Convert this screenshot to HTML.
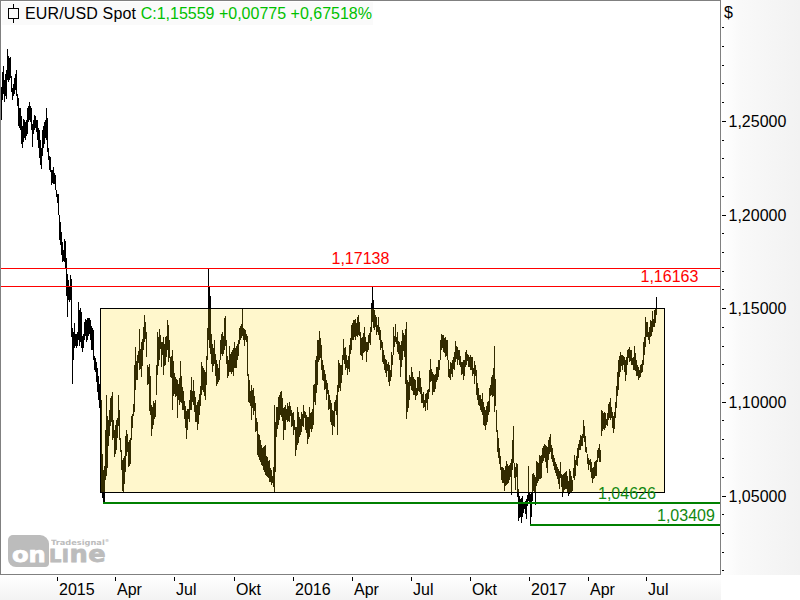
<!DOCTYPE html>
<html><head><meta charset="utf-8"><title>EUR/USD Spot</title>
<style>
html,body{margin:0;padding:0;background:#fff;}
body{width:800px;height:600px;position:relative;overflow:hidden;font-family:"Liberation Sans",sans-serif;}
.lg{font-family:"DejaVu Sans",sans-serif !important;font-weight:bold;}
.t{position:absolute;white-space:nowrap;line-height:1.15;font-family:"Liberation Sans",sans-serif;}
</style></head><body>
<svg width="800" height="600" viewBox="0 0 800 600" shape-rendering="crispEdges" style="position:absolute;left:0;top:0"><defs>
<linearGradient id="gy" x1="0" y1="0" x2="1" y2="0"><stop offset="0" stop-color="#ffffff"/><stop offset="0.25" stop-color="#f9f9f9"/><stop offset="1" stop-color="#f2f2f2"/></linearGradient>
<linearGradient id="gx" x1="0" y1="0" x2="0" y2="1"><stop offset="0" stop-color="#ffffff"/><stop offset="1" stop-color="#f3f3f3"/></linearGradient>
</defs><rect x="0" y="0" width="800" height="600" fill="#fff"/><rect x="721" y="0" width="79" height="575" fill="url(#gy)"/><rect x="0" y="575" width="721" height="25" fill="url(#gx)"/><rect x="2" y="2" width="371" height="23" fill="#fafafa"/><rect x="0" y="0" width="721" height="1" fill="#808080"/><rect x="0" y="0" width="1" height="575" fill="#808080"/><rect x="0" y="574" width="721" height="1" fill="#808080"/><rect x="720" y="0" width="1" height="575" fill="#808080"/><g fill="#000"><rect x="1" y="87" width="1" height="33"/><rect x="2" y="72" width="1" height="28"/><rect x="3" y="66" width="1" height="28"/><rect x="4" y="80" width="1" height="22"/><rect x="5" y="74" width="1" height="22"/><rect x="6" y="70" width="1" height="29"/><rect x="7" y="49" width="1" height="31"/><rect x="8" y="56" width="1" height="26"/><rect x="9" y="58" width="1" height="22"/><rect x="10" y="57" width="1" height="21"/><rect x="11" y="76" width="1" height="16"/><rect x="12" y="88" width="1" height="12"/><rect x="13" y="84" width="1" height="12"/><rect x="14" y="78" width="1" height="16"/><rect x="15" y="74" width="1" height="16"/><rect x="16" y="70" width="1" height="26"/><rect x="17" y="94" width="1" height="12"/><rect x="18" y="98" width="1" height="28"/><rect x="19" y="108" width="1" height="20"/><rect x="20" y="108" width="1" height="22"/><rect x="21" y="116" width="1" height="28"/><rect x="22" y="126" width="1" height="22"/><rect x="23" y="119" width="1" height="23"/><rect x="24" y="120" width="1" height="18"/><rect x="25" y="122" width="1" height="18"/><rect x="26" y="120" width="1" height="16"/><rect x="27" y="108" width="1" height="26"/><rect x="28" y="106" width="1" height="16"/><rect x="29" y="102" width="1" height="18"/><rect x="30" y="106" width="1" height="16"/><rect x="31" y="108" width="1" height="22"/><rect x="32" y="124" width="1" height="23"/><rect x="33" y="120" width="1" height="14"/><rect x="34" y="115" width="1" height="15"/><rect x="35" y="116" width="1" height="12"/><rect x="36" y="120" width="1" height="12"/><rect x="37" y="120" width="1" height="20"/><rect x="38" y="128" width="1" height="20"/><rect x="39" y="130" width="1" height="28"/><rect x="40" y="140" width="1" height="25"/><rect x="41" y="148" width="1" height="21"/><rect x="42" y="130" width="1" height="26"/><rect x="43" y="126" width="1" height="22"/><rect x="44" y="122" width="1" height="22"/><rect x="45" y="120" width="1" height="18"/><rect x="46" y="108" width="1" height="32"/><rect x="47" y="118" width="1" height="34"/><rect x="48" y="148" width="1" height="12"/><rect x="49" y="156" width="1" height="14"/><rect x="50" y="157" width="1" height="15"/><rect x="51" y="170" width="1" height="15"/><rect x="52" y="170" width="1" height="13"/><rect x="53" y="167" width="1" height="17"/><rect x="54" y="173" width="1" height="11"/><rect x="55" y="175" width="1" height="15"/><rect x="56" y="190" width="1" height="7"/><rect x="57" y="194" width="1" height="9"/><rect x="58" y="194" width="1" height="21"/><rect x="59" y="215" width="1" height="25"/><rect x="60" y="222" width="1" height="23"/><rect x="61" y="232" width="1" height="23"/><rect x="62" y="242" width="1" height="20"/><rect x="63" y="250" width="1" height="11"/><rect x="64" y="239" width="1" height="23"/><rect x="65" y="241" width="1" height="27"/><rect x="66" y="258" width="1" height="38"/><rect x="67" y="274" width="1" height="43"/><rect x="68" y="280" width="1" height="20"/><rect x="69" y="286" width="1" height="16"/><rect x="70" y="275" width="1" height="25"/><rect x="71" y="279" width="1" height="58"/><rect x="72" y="328" width="1" height="56"/><rect x="73" y="332" width="1" height="28"/><rect x="74" y="323" width="1" height="25"/><rect x="75" y="334" width="1" height="12"/><rect x="76" y="334" width="1" height="14"/><rect x="77" y="332" width="1" height="14"/><rect x="78" y="302" width="1" height="38"/><rect x="79" y="310" width="1" height="36"/><rect x="80" y="308" width="1" height="34"/><rect x="81" y="312" width="1" height="36"/><rect x="82" y="336" width="1" height="16"/><rect x="83" y="334" width="1" height="14"/><rect x="84" y="322" width="1" height="18"/><rect x="85" y="319" width="1" height="17"/><rect x="86" y="320" width="1" height="22"/><rect x="87" y="318" width="1" height="22"/><rect x="88" y="318" width="1" height="18"/><rect x="89" y="318" width="1" height="16"/><rect x="90" y="320" width="1" height="20"/><rect x="91" y="326" width="1" height="24"/><rect x="92" y="328" width="1" height="22"/><rect x="93" y="330" width="1" height="30"/><rect x="94" y="356" width="1" height="14"/><rect x="95" y="358" width="1" height="14"/><rect x="96" y="362" width="1" height="20"/><rect x="97" y="368" width="1" height="24"/><rect x="98" y="376" width="1" height="24"/><rect x="99" y="384" width="1" height="24"/><rect x="100" y="395" width="1" height="45"/><rect x="101" y="400" width="1" height="92"/><rect x="102" y="454" width="1" height="44"/><rect x="103" y="470" width="1" height="32"/><rect x="104" y="466" width="1" height="36"/><rect x="105" y="430" width="1" height="50"/><rect x="106" y="395" width="1" height="81"/><rect x="107" y="416" width="1" height="52"/><rect x="108" y="420" width="1" height="26"/><rect x="109" y="410" width="1" height="26"/><rect x="110" y="398" width="1" height="28"/><rect x="111" y="396" width="1" height="26"/><rect x="112" y="392" width="1" height="48"/><rect x="113" y="420" width="1" height="18"/><rect x="114" y="430" width="1" height="27"/><rect x="115" y="425" width="1" height="29"/><rect x="116" y="420" width="1" height="30"/><rect x="117" y="418" width="1" height="20"/><rect x="118" y="395" width="1" height="31"/><rect x="119" y="410" width="1" height="30"/><rect x="120" y="438" width="1" height="14"/><rect x="121" y="450" width="1" height="20"/><rect x="122" y="460" width="1" height="31"/><rect x="123" y="458" width="1" height="34"/><rect x="124" y="456" width="1" height="28"/><rect x="125" y="436" width="1" height="36"/><rect x="126" y="430" width="1" height="26"/><rect x="127" y="434" width="1" height="18"/><rect x="128" y="442" width="1" height="25"/><rect x="129" y="440" width="1" height="26"/><rect x="130" y="438" width="1" height="26"/><rect x="131" y="416" width="1" height="24"/><rect x="132" y="414" width="1" height="14"/><rect x="133" y="404" width="1" height="12"/><rect x="134" y="365" width="1" height="47"/><rect x="135" y="347" width="1" height="43"/><rect x="136" y="361" width="1" height="19"/><rect x="137" y="355" width="1" height="25"/><rect x="138" y="351" width="1" height="12"/><rect x="139" y="329" width="1" height="41"/><rect x="140" y="349" width="1" height="20"/><rect x="141" y="342" width="1" height="35"/><rect x="142" y="339" width="1" height="27"/><rect x="143" y="327" width="1" height="23"/><rect x="144" y="315" width="1" height="27"/><rect x="145" y="322" width="1" height="17"/><rect x="146" y="332" width="1" height="25"/><rect x="147" y="365" width="1" height="20"/><rect x="148" y="367" width="1" height="17"/><rect x="149" y="364" width="1" height="47"/><rect x="150" y="376" width="1" height="39"/><rect x="151" y="405" width="1" height="31"/><rect x="152" y="407" width="1" height="22"/><rect x="153" y="401" width="1" height="24"/><rect x="154" y="403" width="1" height="16"/><rect x="155" y="400" width="1" height="17"/><rect x="156" y="365" width="1" height="30"/><rect x="157" y="332" width="1" height="43"/><rect x="158" y="337" width="1" height="29"/><rect x="159" y="329" width="1" height="31"/><rect x="160" y="335" width="1" height="14"/><rect x="161" y="342" width="1" height="25"/><rect x="162" y="342" width="1" height="13"/><rect x="163" y="337" width="1" height="38"/><rect x="164" y="344" width="1" height="22"/><rect x="165" y="337" width="1" height="28"/><rect x="166" y="336" width="1" height="21"/><rect x="167" y="320" width="1" height="30"/><rect x="168" y="325" width="1" height="37"/><rect x="169" y="340" width="1" height="18"/><rect x="170" y="357" width="1" height="20"/><rect x="171" y="356" width="1" height="22"/><rect x="172" y="350" width="1" height="60"/><rect x="173" y="361" width="1" height="35"/><rect x="174" y="373" width="1" height="21"/><rect x="175" y="377" width="1" height="20"/><rect x="176" y="379" width="1" height="17"/><rect x="177" y="380" width="1" height="38"/><rect x="178" y="384" width="1" height="16"/><rect x="179" y="378" width="1" height="27"/><rect x="180" y="361" width="1" height="41"/><rect x="181" y="376" width="1" height="27"/><rect x="182" y="387" width="1" height="23"/><rect x="183" y="391" width="1" height="19"/><rect x="184" y="401" width="1" height="18"/><rect x="185" y="406" width="1" height="22"/><rect x="186" y="411" width="1" height="28"/><rect x="187" y="409" width="1" height="21"/><rect x="188" y="409" width="1" height="10"/><rect x="189" y="400" width="1" height="22"/><rect x="190" y="390" width="1" height="20"/><rect x="191" y="377" width="1" height="33"/><rect x="192" y="391" width="1" height="11"/><rect x="193" y="380" width="1" height="25"/><rect x="194" y="391" width="1" height="21"/><rect x="195" y="397" width="1" height="25"/><rect x="196" y="405" width="1" height="17"/><rect x="197" y="402" width="1" height="28"/><rect x="198" y="400" width="1" height="24"/><rect x="199" y="394" width="1" height="21"/><rect x="200" y="386" width="1" height="20"/><rect x="201" y="362" width="1" height="33"/><rect x="202" y="366" width="1" height="24"/><rect x="203" y="368" width="1" height="24"/><rect x="204" y="370" width="1" height="26"/><rect x="205" y="372" width="1" height="28"/><rect x="206" y="356" width="1" height="29"/><rect x="207" y="328" width="1" height="32"/><rect x="208" y="269" width="1" height="71"/><rect x="209" y="286" width="1" height="62"/><rect x="210" y="296" width="1" height="58"/><rect x="211" y="334" width="1" height="30"/><rect x="212" y="344" width="1" height="28"/><rect x="213" y="348" width="1" height="18"/><rect x="214" y="340" width="1" height="24"/><rect x="215" y="354" width="1" height="22"/><rect x="216" y="360" width="1" height="26"/><rect x="217" y="364" width="1" height="20"/><rect x="218" y="368" width="1" height="14"/><rect x="219" y="360" width="1" height="20"/><rect x="220" y="340" width="1" height="20"/><rect x="221" y="334" width="1" height="20"/><rect x="222" y="332" width="1" height="24"/><rect x="223" y="336" width="1" height="18"/><rect x="224" y="318" width="1" height="32"/><rect x="225" y="316" width="1" height="30"/><rect x="226" y="340" width="1" height="24"/><rect x="227" y="356" width="1" height="22"/><rect x="228" y="360" width="1" height="16"/><rect x="229" y="346" width="1" height="26"/><rect x="230" y="354" width="1" height="18"/><rect x="231" y="352" width="1" height="22"/><rect x="232" y="350" width="1" height="22"/><rect x="233" y="348" width="1" height="28"/><rect x="234" y="342" width="1" height="26"/><rect x="235" y="348" width="1" height="20"/><rect x="236" y="346" width="1" height="22"/><rect x="237" y="344" width="1" height="16"/><rect x="238" y="340" width="1" height="16"/><rect x="239" y="328" width="1" height="16"/><rect x="240" y="326" width="1" height="14"/><rect x="241" y="324" width="1" height="14"/><rect x="242" y="309" width="1" height="27"/><rect x="243" y="328" width="1" height="12"/><rect x="244" y="329" width="1" height="17"/><rect x="245" y="330" width="1" height="10"/><rect x="246" y="334" width="1" height="8"/><rect x="247" y="336" width="1" height="40"/><rect x="248" y="374" width="1" height="28"/><rect x="249" y="380" width="1" height="23"/><rect x="250" y="391" width="1" height="15"/><rect x="251" y="385" width="1" height="35"/><rect x="252" y="390" width="1" height="18"/><rect x="253" y="388" width="1" height="27"/><rect x="254" y="396" width="1" height="15"/><rect x="255" y="403" width="1" height="29"/><rect x="256" y="418" width="1" height="13"/><rect x="257" y="422" width="1" height="33"/><rect x="258" y="434" width="1" height="23"/><rect x="259" y="435" width="1" height="25"/><rect x="260" y="440" width="1" height="22"/><rect x="261" y="445" width="1" height="20"/><rect x="262" y="448" width="1" height="18"/><rect x="263" y="447" width="1" height="23"/><rect x="264" y="446" width="1" height="26"/><rect x="265" y="445" width="1" height="30"/><rect x="266" y="456" width="1" height="20"/><rect x="267" y="457" width="1" height="20"/><rect x="268" y="461" width="1" height="17"/><rect x="269" y="460" width="1" height="22"/><rect x="270" y="468" width="1" height="14"/><rect x="271" y="470" width="1" height="15"/><rect x="272" y="476" width="1" height="7"/><rect x="273" y="467" width="1" height="20"/><rect x="274" y="405" width="1" height="87"/><rect x="275" y="422" width="1" height="50"/><rect x="276" y="407" width="1" height="30"/><rect x="277" y="407" width="1" height="22"/><rect x="278" y="397" width="1" height="28"/><rect x="279" y="395" width="1" height="25"/><rect x="280" y="392" width="1" height="23"/><rect x="281" y="391" width="1" height="26"/><rect x="282" y="398" width="1" height="23"/><rect x="283" y="408" width="1" height="32"/><rect x="284" y="407" width="1" height="23"/><rect x="285" y="405" width="1" height="25"/><rect x="286" y="409" width="1" height="11"/><rect x="287" y="403" width="1" height="19"/><rect x="288" y="406" width="1" height="15"/><rect x="289" y="402" width="1" height="20"/><rect x="290" y="406" width="1" height="10"/><rect x="291" y="410" width="1" height="17"/><rect x="292" y="413" width="1" height="13"/><rect x="293" y="412" width="1" height="23"/><rect x="294" y="420" width="1" height="10"/><rect x="295" y="427" width="1" height="29"/><rect x="296" y="427" width="1" height="23"/><rect x="297" y="407" width="1" height="38"/><rect x="298" y="412" width="1" height="31"/><rect x="299" y="417" width="1" height="20"/><rect x="300" y="419" width="1" height="16"/><rect x="301" y="412" width="1" height="20"/><rect x="302" y="414" width="1" height="12"/><rect x="303" y="405" width="1" height="22"/><rect x="304" y="411" width="1" height="7"/><rect x="305" y="412" width="1" height="18"/><rect x="306" y="415" width="1" height="18"/><rect x="307" y="417" width="1" height="27"/><rect x="308" y="417" width="1" height="22"/><rect x="309" y="407" width="1" height="30"/><rect x="310" y="413" width="1" height="16"/><rect x="311" y="412" width="1" height="20"/><rect x="312" y="409" width="1" height="20"/><rect x="313" y="385" width="1" height="40"/><rect x="314" y="384" width="1" height="18"/><rect x="315" y="360" width="1" height="45"/><rect x="316" y="356" width="1" height="37"/><rect x="317" y="340" width="1" height="45"/><rect x="318" y="340" width="1" height="22"/><rect x="319" y="331" width="1" height="29"/><rect x="320" y="338" width="1" height="20"/><rect x="321" y="345" width="1" height="25"/><rect x="322" y="360" width="1" height="20"/><rect x="323" y="365" width="1" height="16"/><rect x="324" y="370" width="1" height="20"/><rect x="325" y="374" width="1" height="15"/><rect x="326" y="380" width="1" height="20"/><rect x="327" y="383" width="1" height="11"/><rect x="328" y="390" width="1" height="20"/><rect x="329" y="395" width="1" height="14"/><rect x="330" y="400" width="1" height="22"/><rect x="331" y="403" width="1" height="22"/><rect x="332" y="410" width="1" height="25"/><rect x="333" y="411" width="1" height="15"/><rect x="334" y="402" width="1" height="25"/><rect x="335" y="400" width="1" height="11"/><rect x="336" y="395" width="1" height="20"/><rect x="337" y="385" width="1" height="50"/><rect x="338" y="360" width="1" height="32"/><rect x="339" y="363" width="1" height="25"/><rect x="340" y="365" width="1" height="26"/><rect x="341" y="365" width="1" height="18"/><rect x="342" y="355" width="1" height="20"/><rect x="343" y="339" width="1" height="21"/><rect x="344" y="348" width="1" height="16"/><rect x="345" y="347" width="1" height="23"/><rect x="346" y="355" width="1" height="13"/><rect x="347" y="360" width="1" height="15"/><rect x="348" y="356" width="1" height="13"/><rect x="349" y="345" width="1" height="27"/><rect x="350" y="338" width="1" height="16"/><rect x="351" y="325" width="1" height="25"/><rect x="352" y="323" width="1" height="17"/><rect x="353" y="320" width="1" height="20"/><rect x="354" y="320" width="1" height="17"/><rect x="355" y="319" width="1" height="21"/><rect x="356" y="323" width="1" height="13"/><rect x="357" y="317" width="1" height="20"/><rect x="358" y="315" width="1" height="20"/><rect x="359" y="322" width="1" height="14"/><rect x="360" y="332" width="1" height="23"/><rect x="361" y="338" width="1" height="18"/><rect x="362" y="337" width="1" height="23"/><rect x="363" y="333" width="1" height="20"/><rect x="364" y="327" width="1" height="25"/><rect x="365" y="337" width="1" height="14"/><rect x="366" y="342" width="1" height="20"/><rect x="367" y="342" width="1" height="10"/><rect x="368" y="335" width="1" height="15"/><rect x="369" y="333" width="1" height="10"/><rect x="370" y="327" width="1" height="18"/><rect x="371" y="303" width="1" height="29"/><rect x="372" y="287" width="1" height="35"/><rect x="373" y="300" width="1" height="28"/><rect x="374" y="310" width="1" height="20"/><rect x="375" y="315" width="1" height="12"/><rect x="376" y="317" width="1" height="18"/><rect x="377" y="325" width="1" height="7"/><rect x="378" y="317" width="1" height="18"/><rect x="379" y="327" width="1" height="13"/><rect x="380" y="330" width="1" height="20"/><rect x="381" y="340" width="1" height="8"/><rect x="382" y="342" width="1" height="20"/><rect x="383" y="350" width="1" height="14"/><rect x="384" y="355" width="1" height="15"/><rect x="385" y="359" width="1" height="14"/><rect x="386" y="360" width="1" height="17"/><rect x="387" y="364" width="1" height="7"/><rect x="388" y="362" width="1" height="20"/><rect x="389" y="365" width="1" height="21"/><rect x="390" y="370" width="1" height="11"/><rect x="391" y="352" width="1" height="25"/><rect x="392" y="355" width="1" height="10"/><rect x="393" y="327" width="1" height="28"/><rect x="394" y="336" width="1" height="11"/><rect x="395" y="324" width="1" height="18"/><rect x="396" y="337" width="1" height="7"/><rect x="397" y="332" width="1" height="20"/><rect x="398" y="341" width="1" height="13"/><rect x="399" y="342" width="1" height="18"/><rect x="400" y="345" width="1" height="32"/><rect x="401" y="341" width="1" height="26"/><rect x="402" y="330" width="1" height="30"/><rect x="403" y="333" width="1" height="18"/><rect x="404" y="335" width="1" height="22"/><rect x="405" y="329" width="1" height="55"/><rect x="406" y="322" width="1" height="97"/><rect x="407" y="380" width="1" height="32"/><rect x="408" y="382" width="1" height="26"/><rect x="409" y="375" width="1" height="25"/><rect x="410" y="377" width="1" height="9"/><rect x="411" y="367" width="1" height="23"/><rect x="412" y="372" width="1" height="19"/><rect x="413" y="377" width="1" height="18"/><rect x="414" y="379" width="1" height="16"/><rect x="415" y="380" width="1" height="20"/><rect x="416" y="388" width="1" height="8"/><rect x="417" y="377" width="1" height="18"/><rect x="418" y="377" width="1" height="14"/><rect x="419" y="371" width="1" height="21"/><rect x="420" y="378" width="1" height="16"/><rect x="421" y="387" width="1" height="16"/><rect x="422" y="394" width="1" height="9"/><rect x="423" y="392" width="1" height="16"/><rect x="424" y="400" width="1" height="7"/><rect x="425" y="394" width="1" height="17"/><rect x="426" y="393" width="1" height="10"/><rect x="427" y="390" width="1" height="20"/><rect x="428" y="389" width="1" height="10"/><rect x="429" y="370" width="1" height="22"/><rect x="430" y="359" width="1" height="23"/><rect x="431" y="369" width="1" height="12"/><rect x="432" y="372" width="1" height="23"/><rect x="433" y="374" width="1" height="18"/><rect x="434" y="375" width="1" height="17"/><rect x="435" y="374" width="1" height="15"/><rect x="436" y="367" width="1" height="15"/><rect x="437" y="367" width="1" height="13"/><rect x="438" y="360" width="1" height="17"/><rect x="439" y="360" width="1" height="10"/><rect x="440" y="340" width="1" height="20"/><rect x="441" y="334" width="1" height="16"/><rect x="442" y="335" width="1" height="13"/><rect x="443" y="335" width="1" height="17"/><rect x="444" y="338" width="1" height="15"/><rect x="445" y="337" width="1" height="20"/><rect x="446" y="340" width="1" height="16"/><rect x="447" y="340" width="1" height="20"/><rect x="448" y="360" width="1" height="17"/><rect x="449" y="369" width="1" height="9"/><rect x="450" y="362" width="1" height="18"/><rect x="451" y="363" width="1" height="11"/><rect x="452" y="360" width="1" height="17"/><rect x="453" y="357" width="1" height="12"/><rect x="454" y="352" width="1" height="18"/><rect x="455" y="341" width="1" height="21"/><rect x="456" y="346" width="1" height="13"/><rect x="457" y="347" width="1" height="18"/><rect x="458" y="350" width="1" height="10"/><rect x="459" y="350" width="1" height="15"/><rect x="460" y="356" width="1" height="11"/><rect x="461" y="362" width="1" height="13"/><rect x="462" y="362" width="1" height="12"/><rect x="463" y="360" width="1" height="20"/><rect x="464" y="360" width="1" height="16"/><rect x="465" y="352" width="1" height="15"/><rect x="466" y="350" width="1" height="15"/><rect x="467" y="354" width="1" height="7"/><rect x="468" y="355" width="1" height="12"/><rect x="469" y="357" width="1" height="10"/><rect x="470" y="355" width="1" height="15"/><rect x="471" y="357" width="1" height="13"/><rect x="472" y="357" width="1" height="19"/><rect x="473" y="368" width="1" height="6"/><rect x="474" y="361" width="1" height="23"/><rect x="475" y="365" width="1" height="11"/><rect x="476" y="370" width="1" height="25"/><rect x="477" y="383" width="1" height="17"/><rect x="478" y="388" width="1" height="17"/><rect x="479" y="395" width="1" height="11"/><rect x="480" y="395" width="1" height="15"/><rect x="481" y="399" width="1" height="13"/><rect x="482" y="393" width="1" height="22"/><rect x="483" y="402" width="1" height="23"/><rect x="484" y="407" width="1" height="19"/><rect x="485" y="410" width="1" height="20"/><rect x="486" y="406" width="1" height="19"/><rect x="487" y="402" width="1" height="20"/><rect x="488" y="401" width="1" height="14"/><rect x="489" y="388" width="1" height="24"/><rect x="490" y="385" width="1" height="11"/><rect x="491" y="377" width="1" height="18"/><rect x="492" y="375" width="1" height="22"/><rect x="493" y="368" width="1" height="28"/><rect x="494" y="346" width="1" height="66"/><rect x="495" y="379" width="1" height="27"/><rect x="496" y="410" width="1" height="22"/><rect x="497" y="430" width="1" height="22"/><rect x="498" y="438" width="1" height="20"/><rect x="499" y="448" width="1" height="16"/><rect x="500" y="456" width="1" height="14"/><rect x="501" y="467" width="1" height="13"/><rect x="502" y="467" width="1" height="16"/><rect x="503" y="468" width="1" height="15"/><rect x="504" y="470" width="1" height="21"/><rect x="505" y="466" width="1" height="20"/><rect x="506" y="461" width="1" height="24"/><rect x="507" y="464" width="1" height="20"/><rect x="508" y="466" width="1" height="17"/><rect x="509" y="465" width="1" height="15"/><rect x="510" y="463" width="1" height="14"/><rect x="511" y="459" width="1" height="36"/><rect x="512" y="440" width="1" height="30"/><rect x="513" y="426" width="1" height="37"/><rect x="514" y="463" width="1" height="15"/><rect x="515" y="467" width="1" height="23"/><rect x="516" y="463" width="1" height="14"/><rect x="517" y="464" width="1" height="33"/><rect x="518" y="489" width="1" height="32"/><rect x="519" y="496" width="1" height="22"/><rect x="520" y="499" width="1" height="18"/><rect x="521" y="498" width="1" height="25"/><rect x="522" y="496" width="1" height="21"/><rect x="523" y="503" width="1" height="10"/><rect x="524" y="503" width="1" height="6"/><rect x="525" y="501" width="1" height="13"/><rect x="526" y="499" width="1" height="20"/><rect x="527" y="495" width="1" height="11"/><rect x="528" y="466" width="1" height="35"/><rect x="529" y="493" width="1" height="10"/><rect x="530" y="494" width="1" height="31"/><rect x="531" y="493" width="1" height="24"/><rect x="532" y="474" width="1" height="27"/><rect x="533" y="473" width="1" height="18"/><rect x="534" y="475" width="1" height="18"/><rect x="535" y="477" width="1" height="28"/><rect x="536" y="461" width="1" height="25"/><rect x="537" y="462" width="1" height="21"/><rect x="538" y="463" width="1" height="18"/><rect x="539" y="455" width="1" height="24"/><rect x="540" y="456" width="1" height="23"/><rect x="541" y="455" width="1" height="23"/><rect x="542" y="448" width="1" height="15"/><rect x="543" y="446" width="1" height="15"/><rect x="544" y="444" width="1" height="14"/><rect x="545" y="445" width="1" height="17"/><rect x="546" y="446" width="1" height="22"/><rect x="547" y="447" width="1" height="26"/><rect x="548" y="440" width="1" height="20"/><rect x="549" y="437" width="1" height="17"/><rect x="550" y="434" width="1" height="18"/><rect x="551" y="445" width="1" height="14"/><rect x="552" y="448" width="1" height="14"/><rect x="553" y="455" width="1" height="11"/><rect x="554" y="458" width="1" height="12"/><rect x="555" y="462" width="1" height="11"/><rect x="556" y="464" width="1" height="12"/><rect x="557" y="467" width="1" height="12"/><rect x="558" y="469" width="1" height="15"/><rect x="559" y="471" width="1" height="18"/><rect x="560" y="462" width="1" height="16"/><rect x="561" y="474" width="1" height="13"/><rect x="562" y="475" width="1" height="22"/><rect x="563" y="474" width="1" height="19"/><rect x="564" y="473" width="1" height="17"/><rect x="565" y="472" width="1" height="17"/><rect x="566" y="471" width="1" height="18"/><rect x="567" y="476" width="1" height="16"/><rect x="568" y="481" width="1" height="15"/><rect x="569" y="469" width="1" height="25"/><rect x="570" y="471" width="1" height="22"/><rect x="571" y="476" width="1" height="16"/><rect x="572" y="480" width="1" height="11"/><rect x="573" y="468" width="1" height="10"/><rect x="574" y="455" width="1" height="25"/><rect x="575" y="460" width="1" height="16"/><rect x="576" y="456" width="1" height="9"/><rect x="577" y="448" width="1" height="18"/><rect x="578" y="444" width="1" height="14"/><rect x="579" y="440" width="1" height="10"/><rect x="580" y="435" width="1" height="15"/><rect x="581" y="436" width="1" height="10"/><rect x="582" y="434" width="1" height="12"/><rect x="583" y="420" width="1" height="18"/><rect x="584" y="426" width="1" height="16"/><rect x="585" y="436" width="1" height="16"/><rect x="586" y="447" width="1" height="6"/><rect x="587" y="454" width="1" height="10"/><rect x="588" y="458" width="1" height="12"/><rect x="589" y="460" width="1" height="5"/><rect x="590" y="459" width="1" height="13"/><rect x="591" y="462" width="1" height="16"/><rect x="592" y="468" width="1" height="15"/><rect x="593" y="467" width="1" height="12"/><rect x="594" y="462" width="1" height="16"/><rect x="595" y="461" width="1" height="15"/><rect x="596" y="460" width="1" height="16"/><rect x="597" y="450" width="1" height="12"/><rect x="598" y="448" width="1" height="10"/><rect x="599" y="444" width="1" height="18"/><rect x="600" y="450" width="1" height="12"/><rect x="601" y="410" width="1" height="26"/><rect x="602" y="411" width="1" height="20"/><rect x="603" y="413" width="1" height="16"/><rect x="604" y="412" width="1" height="18"/><rect x="605" y="413" width="1" height="15"/><rect x="606" y="419" width="1" height="6"/><rect x="607" y="413" width="1" height="13"/><rect x="608" y="404" width="1" height="16"/><rect x="609" y="402" width="1" height="16"/><rect x="610" y="398" width="1" height="22"/><rect x="611" y="407" width="1" height="11"/><rect x="612" y="412" width="1" height="16"/><rect x="613" y="416" width="1" height="17"/><rect x="614" y="412" width="1" height="17"/><rect x="615" y="402" width="1" height="16"/><rect x="616" y="386" width="1" height="22"/><rect x="617" y="372" width="1" height="24"/><rect x="618" y="360" width="1" height="30"/><rect x="619" y="356" width="1" height="21"/><rect x="620" y="352" width="1" height="20"/><rect x="621" y="355" width="1" height="11"/><rect x="622" y="355" width="1" height="15"/><rect x="623" y="356" width="1" height="9"/><rect x="624" y="357" width="1" height="15"/><rect x="625" y="360" width="1" height="21"/><rect x="626" y="357" width="1" height="18"/><rect x="627" y="350" width="1" height="15"/><rect x="628" y="349" width="1" height="9"/><rect x="629" y="347" width="1" height="15"/><rect x="630" y="350" width="1" height="11"/><rect x="631" y="350" width="1" height="15"/><rect x="632" y="358" width="1" height="7"/><rect x="633" y="357" width="1" height="13"/><rect x="634" y="346" width="1" height="24"/><rect x="635" y="353" width="1" height="18"/><rect x="636" y="360" width="1" height="16"/><rect x="637" y="365" width="1" height="11"/><rect x="638" y="367" width="1" height="13"/><rect x="639" y="370" width="1" height="8"/><rect x="640" y="365" width="1" height="12"/><rect x="641" y="364" width="1" height="9"/><rect x="642" y="360" width="1" height="12"/><rect x="643" y="342" width="1" height="23"/><rect x="644" y="337" width="1" height="18"/><rect x="645" y="317" width="1" height="30"/><rect x="646" y="322" width="1" height="15"/><rect x="647" y="322" width="1" height="15"/><rect x="648" y="332" width="1" height="8"/><rect x="649" y="327" width="1" height="17"/><rect x="650" y="320" width="1" height="17"/><rect x="651" y="321" width="1" height="15"/><rect x="652" y="311" width="1" height="21"/><rect x="653" y="319" width="1" height="8"/><rect x="654" y="310" width="1" height="17"/><rect x="655" y="309" width="1" height="14"/><rect x="656" y="297" width="1" height="18"/></g><rect x="1" y="268" width="719" height="1" fill="#ff0000"/><rect x="1" y="286" width="719" height="1" fill="#ff0000"/><rect x="103" y="502" width="617" height="2" fill="#008000"/><rect x="530" y="524" width="190" height="2" fill="#008000"/><rect x="100.5" y="308.5" width="564" height="184" fill="rgba(255,215,0,0.2)" stroke="#000" stroke-width="1"/><g fill="#000"><rect x="722" y="27" width="2" height="1"/><rect x="722" y="46" width="2" height="1"/><rect x="722" y="65" width="2" height="1"/><rect x="722" y="83" width="2" height="1"/><rect x="722" y="102" width="2" height="1"/><rect x="722" y="121" width="4" height="1"/><rect x="722" y="140" width="2" height="1"/><rect x="722" y="158" width="2" height="1"/><rect x="722" y="177" width="2" height="1"/><rect x="722" y="196" width="2" height="1"/><rect x="722" y="215" width="4" height="1"/><rect x="722" y="233" width="2" height="1"/><rect x="722" y="252" width="2" height="1"/><rect x="722" y="271" width="2" height="1"/><rect x="722" y="289" width="2" height="1"/><rect x="722" y="308" width="4" height="1"/><rect x="722" y="327" width="2" height="1"/><rect x="722" y="346" width="2" height="1"/><rect x="722" y="364" width="2" height="1"/><rect x="722" y="383" width="2" height="1"/><rect x="722" y="402" width="4" height="1"/><rect x="722" y="420" width="2" height="1"/><rect x="722" y="439" width="2" height="1"/><rect x="722" y="458" width="2" height="1"/><rect x="722" y="477" width="2" height="1"/><rect x="722" y="496" width="4" height="1"/><rect x="722" y="514" width="2" height="1"/><rect x="722" y="533" width="2" height="1"/><rect x="722" y="552" width="2" height="1"/><rect x="722" y="570" width="2" height="1"/></g><g fill="#000"><rect x="57" y="577" width="1" height="4"/><rect x="115" y="577" width="1" height="4"/><rect x="174" y="577" width="1" height="4"/><rect x="234" y="577" width="1" height="4"/><rect x="293" y="577" width="1" height="4"/><rect x="352" y="577" width="1" height="4"/><rect x="411" y="577" width="1" height="4"/><rect x="470" y="577" width="1" height="4"/><rect x="529" y="577" width="1" height="4"/><rect x="588" y="577" width="1" height="4"/><rect x="646" y="577" width="1" height="4"/></g><rect x="8.5" y="8.5" width="10" height="10" fill="none" stroke="#000"/><rect x="13" y="4" width="1" height="4" fill="#000"/><rect x="13" y="19" width="1" height="4" fill="#000"/><g shape-rendering="auto"><path d="M13 535 H40 A9 9 0 0 1 49 544 V563 A4 4 0 0 1 45 567 H16 A8 8 0 0 1 8 559 V540 A5 5 0 0 1 13 535 Z" fill="#bcbcbc"/></g></svg>
<div class="t" style="left:25px;top:4.52px;color:#000;font-size:16px;"><span style="letter-spacing:0.14px">EUR/USD Spot </span><span style="color:#00c000">C:1,15559 +0,00775 +0,67518%</span></div><div class="t" style="left:724px;top:4.02px;color:#000;font-size:16px;">$</div><div class="t" style="left:728.5px;top:112.52px;color:#000;font-size:16px;">1,25000</div><div class="t" style="left:728.5px;top:206.52px;color:#000;font-size:16px;">1,20000</div><div class="t" style="left:728.5px;top:299.52px;color:#000;font-size:16px;">1,15000</div><div class="t" style="left:728.5px;top:393.52px;color:#000;font-size:16px;">1,10000</div><div class="t" style="left:728.5px;top:487.52px;color:#000;font-size:16px;">1,05000</div><div class="t" style="left:59px;top:580.52px;color:#000;font-size:16px;">2015</div><div class="t" style="left:117px;top:580.52px;color:#000;font-size:16px;">Apr</div><div class="t" style="left:176px;top:580.52px;color:#000;font-size:16px;">Jul</div><div class="t" style="left:236px;top:580.52px;color:#000;font-size:16px;">Okt</div><div class="t" style="left:295px;top:580.52px;color:#000;font-size:16px;">2016</div><div class="t" style="left:354px;top:580.52px;color:#000;font-size:16px;">Apr</div><div class="t" style="left:413px;top:580.52px;color:#000;font-size:16px;">Jul</div><div class="t" style="left:472px;top:580.52px;color:#000;font-size:16px;">Okt</div><div class="t" style="left:531px;top:580.52px;color:#000;font-size:16px;">2017</div><div class="t" style="left:590px;top:580.52px;color:#000;font-size:16px;">Apr</div><div class="t" style="left:648px;top:580.52px;color:#000;font-size:16px;">Jul</div><div class="t" style="left:331.5px;top:249.52px;color:#ff0000;font-size:16px;">1,17138</div><div class="t" style="left:640.5px;top:267.52px;color:#ff0000;font-size:16px;">1,16163</div><div class="t" style="left:598px;top:484.52px;color:#118811;font-size:16px;">1,04626</div><div class="t" style="left:657px;top:506.52px;color:#118811;font-size:16px;">1,03409</div><div class="t lg" style="left:12.3px;top:540.9px;color:#fff;font-size:22px;line-height:27px;-webkit-text-stroke:0.75px #fff;letter-spacing:-0.2px;transform:scaleX(1.1);transform-origin:0 0;">on</div><div class="t lg" style="left:49.2px;top:540.9px;color:#bcbcbc;font-size:22.5px;line-height:26px;-webkit-text-stroke:0.8px #bcbcbc;transform:scaleX(1.14);transform-origin:0 0;letter-spacing:0.4px"><span style="font-size:17px">LI</span><span style="text-transform:lowercase">NE</span></div><div class="t lg" style="left:50.6px;top:538.2px;color:#bcbcbc;font-size:7.3px;line-height:9px;transform:scaleX(1.13);transform-origin:0 0;">Tradesignal<span style="font-size:4px;position:relative;top:-3px">®</span></div>
</body></html>
